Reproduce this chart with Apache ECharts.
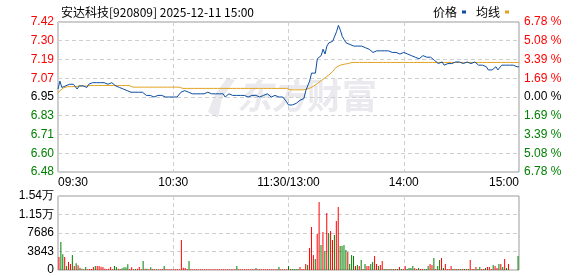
<!DOCTYPE html>
<html><head><meta charset="utf-8">
<script src="https://cdn.jsdelivr.net/npm/echarts@6/dist/echarts.min.js"></script>
<style>html,body{margin:0;padding:0;background:#fff}#c{width:578px;height:276px}</style>
</head><body><div id="c"></div>
<script>
const chartTitle = '安达科技[920809] 2025-12-11 15:00';
const legendNames = ['价格', '均线'];
const watermarkParts = ['东方', '财富'];
const priceAxisRange = [6.4788, 7.4212, 0.1178];
const volAxisRange = [0, 15372, 3843];
const priceTicks = ['6.48','6.60','6.71','6.83','6.95','7.07','7.19','7.30','7.42'];
const pctTicks = ['6.78 %','5.08 %','3.39 %','1.69 %','0.00 %','1.69 %','3.39 %','5.08 %','6.78 %'];
const volTicks = ['0','3843','7686','1.15万','1.54万'];
const timeTicks = ['09:30','10:30','11:30/13:00','14:00','15:00'];

const price = [
7.00,7.05,7.01,7.02,7.02,7.02,7.03,7.04,7.03,7.03,
7.00,7.02,7.03,7.02,7.02,7.01,7.03,7.03,7.04,7.05,
7.04,7.03,7.04,7.03,7.04,7.03,7.03,7.04,7.04,7.03,
7.02,7.02,7.01,7.01,7.00,7.00,6.99,6.99,6.98,6.98,
6.98,6.98,6.98,6.99,6.98,6.97,6.96,6.97,6.96,6.95,
6.95,6.95,6.96,6.95,6.96,6.95,6.95,6.95,6.95,6.95,
6.95,6.95,6.95,6.96,6.98,6.99,6.99,7.00,6.98,6.97,
6.97,6.97,6.97,6.97,6.97,6.97,6.97,6.98,6.98,6.98,
6.97,6.97,6.97,6.97,6.97,6.97,6.97,6.95,6.96,6.97,
6.96,6.96,6.96,6.96,6.95,6.96,6.96,6.96,6.95,6.95,
6.96,6.96,6.95,6.96,6.96,6.95,6.96,6.96,6.96,6.97,
6.96,6.95,6.96,6.96,6.95,6.95,6.95,6.95,6.94,6.92,
6.90,
6.90,6.90,6.90,6.91,6.92,6.93,6.93,6.94,6.99,7.00,
7.05,7.10,7.10,7.10,7.19,7.20,7.21,7.25,7.22,7.27,
7.29,7.29,7.30,7.31,7.36,7.40,7.37,7.33,7.31,7.29,
7.29,7.28,7.28,7.27,7.28,7.27,7.28,7.27,7.27,7.26,
7.25,7.25,7.24,7.23,7.24,7.24,7.25,7.24,7.24,7.24,
7.24,7.24,7.24,7.23,7.23,7.23,7.22,7.22,7.22,7.23,
7.22,7.22,7.21,7.21,7.20,7.20,7.20,7.19,7.20,7.21,
7.21,7.20,7.19,7.20,7.20,7.18,7.17,7.16,7.15,7.17,
7.15,7.16,7.16,7.16,7.16,7.16,7.17,7.16,7.17,7.17,
7.16,7.16,7.17,7.17,7.16,7.17,7.17,7.16,7.15,7.15,
7.15,7.14,7.14,7.12,7.12,7.12,7.13,7.14,7.12,7.13,
7.15,7.14,7.15,7.15,7.15,7.15,7.15,7.14,7.14,7.14
];

const avgPrice = [
6.975,6.990,7.000,7.008,7.012,7.015,7.015,7.015,7.015,7.015,
7.019,7.019,7.019,7.019,7.019,7.019,7.019,7.022,7.022,7.022,
7.022,7.022,7.022,7.022,7.022,7.022,7.022,7.022,7.022,7.022,
7.022,7.022,7.022,7.022,7.022,7.022,7.022,7.022,7.022,7.012,
7.012,7.012,7.012,7.012,7.012,7.012,7.012,7.012,7.012,7.012,
7.012,7.012,7.012,7.012,7.012,7.012,7.012,7.012,7.012,7.012,
7.012,7.012,7.012,7.012,7.012,7.004,7.004,7.004,7.004,7.004,
7.004,7.004,7.004,7.004,7.004,7.004,7.004,7.004,7.004,7.004,
7.004,7.004,7.004,7.004,7.004,7.004,7.004,7.004,7.004,7.004,
7.004,7.004,7.004,7.004,7.004,7.004,7.004,7.004,7.004,7.004,
7.004,7.004,7.004,7.004,7.004,7.004,7.004,7.004,7.004,7.004,
7.004,7.004,7.004,7.004,7.004,7.004,7.004,7.004,7.004,7.004,
7.004,
6.995,6.995,6.995,6.995,6.995,6.995,6.995,6.995,6.997,7.001,
7.005,7.010,7.018,7.027,7.034,7.044,7.053,7.062,7.070,7.079,
7.088,7.097,7.110,7.125,7.138,7.145,7.150,7.153,7.156,7.158,
7.160,7.163,7.167,7.167,7.167,7.167,7.167,7.167,7.167,7.167,
7.167,7.167,7.167,7.167,7.167,7.167,7.167,7.167,7.167,7.167,
7.167,7.167,7.167,7.167,7.167,7.167,7.167,7.167,7.167,7.167,
7.167,7.167,7.167,7.167,7.167,7.167,7.167,7.167,7.167,7.167,
7.167,7.167,7.167,7.167,7.167,7.167,7.167,7.167,7.167,7.167,
7.167,7.167,7.167,7.167,7.167,7.167,7.167,7.167,7.167,7.167,
7.167,7.167,7.167,7.167,7.167,7.167,7.167,7.167,7.167,7.167,
7.167,7.167,7.167,7.167,7.167,7.167,7.167,7.167,7.167,7.167,
7.167,7.167,7.167,7.167,7.167,7.167,7.167,7.167,7.167,7.167
];

const volume = [
2700,5816,3254,2700,830,1660,1250,3115,830,1385,
970,485,277,150,623,138,208,208,623,831,
831,831,700,623,277,208,277,623,138,831,
623,277,208,345,554,554,1177,208,554,138,
208,277,623,138,1870,277,277,138,554,208,
138,138,138,138,208,831,138,138,138,138,
138,138,138,138,6232,485,415,208,1870,138,
138,138,138,138,138,138,138,138,138,138,
138,138,138,138,138,138,138,138,138,138,
138,138,138,831,138,138,138,138,138,138,
138,138,138,415,138,138,138,138,138,138,
138,138,138,138,138,623,138,138,138,138,
831,
208,208,208,208,208,623,208,208,1246,1039,
4570,8932,3116,2285,7478,14125,5193,7893,3947,11840,
7686,8101,6232,7270,10178,13086,4985,4985,5193,4154,
3739,1246,3116,2908,831,1039,831,2077,208,1246,
831,831,1246,1662,2908,1246,831,1039,1870,208,
208,208,208,208,208,208,208,623,208,208,
831,208,415,415,831,345,208,415,208,208,
208,208,831,1246,1039,2493,208,831,2077,2493,
415,1246,208,208,831,208,208,208,208,208,
208,208,208,208,2077,208,208,623,208,623,
208,208,415,623,623,208,1039,831,415,1246,
1246,623,2285,415,1246,0,0,0,0,2908
];

const volDir = (
'rggrgrrgrg' + 'rgrggrrrrg' + 'rrrrrrrrrg' + 'grrggggrrr' + 'grrrgrgrgr' +
'rgrrrgrrrr' + 'rrrrrrrrgr' + 'rrrrrrrrrr' + 'rrrrrrrrrr' + 'rrrgrrrrrr' +
'rrrgrrrrrr' + 'rrrrrgrrrr' + 'g' +
'rggggrrrrg' + 'rrrgrrgrgr' + 'grrgrrgggg' + 'rgggrgrgrg' + 'rrggrrgrrg' +
'grgrgrgrgr' + 'rggggrrgrr' + 'gggrrgrggr' + 'grrrrgrgrg' + 'rgrgrrgrgg' +
'rrgrrrgrrg' + 'rgrgrrrrrg'
).split('');

const cats = [];
for (let h = 9, m = 30; ; m++) {
  if (m === 60) { m = 0; h++; }
  if (h === 11 && m > 30) break;
  cats.push(String(h).padStart(2, '0') + ':' + String(m).padStart(2, '0'));
}
for (let h = 13, m = 1; ; m++) {
  if (m === 60) { m = 0; h++; }
  cats.push(String(h).padStart(2, '0') + ':' + String(m).padStart(2, '0'));
  if (h === 15) break;
}

const LF = 'Liberation Sans, Arial, sans-serif';
const CJK = 'Noto Sans CJK SC, sans-serif';
const RED = '#ff0000', GREEN = '#008000';
const WM = '#e9e9ee';
const richStyles = {
  up: { color: RED, fontSize: 12, fontFamily: LF },
  dn: { color: GREEN, fontSize: 12, fontFamily: LF },
  eq: { color: '#000', fontSize: 12, fontFamily: LF }
};
function tickIndex(v) { return Math.round((v - priceAxisRange[0]) / priceAxisRange[2]); }
function cls(i) { return i > 4 ? 'up' : (i < 4 ? 'dn' : 'eq'); }
const dash = { color: '#cfcfcf', type: [4, 3], width: 1 };
const everyHour = (i) => i % 60 === 0;

const chart = echarts.init(document.getElementById('c'), null, { renderer: 'canvas' });
chart.setOption({
  animation: false,
  backgroundColor: '#fff',
  title: {
    text: chartTitle, left: 56, top: 1,
    textStyle: { fontSize: 12, fontWeight: 'normal', fontFamily: CJK, color: '#000' }
  },
  legend: {
    data: legendNames, right: 64, top: 1, icon: 'rect', itemWidth: 4, itemHeight: 3,
    align: 'right', itemGap: 10,
    textStyle: { fontSize: 12, fontFamily: CJK, color: '#000' }
  },
  graphic: [
    { type: 'polygon', z: -10, silent: true,
      shape: { points: [[227, 78], [235, 80], [222, 98], [218, 118], [208, 112], [214, 96]] },
      style: { fill: WM } },
    { type: 'text', left: 237, top: 78, z: -10, silent: true,
      style: { text: '{a|' + watermarkParts[0] + '}{b|' + watermarkParts[1] + '}',
        fill: WM, fontSize: 35, fontWeight: 'bold', fontFamily: CJK,
        rich: {
          a: { fontSize: 35, fontWeight: 'bold', fontStyle: 'italic', fontFamily: CJK, fill: WM },
          b: { fontSize: 35, fontWeight: 'bold', fontFamily: CJK, fill: WM }
        } } }
  ],
  grid: [
    { left: 58, top: 22, width: 461, height: 150, show: true, borderColor: '#999', borderWidth: 1, backgroundColor: 'transparent' },
    { left: 58, top: 196, width: 461, height: 74, show: true, borderColor: '#999', borderWidth: 1, backgroundColor: 'transparent' }
  ],
  xAxis: [
    { type: 'category', gridIndex: 0, data: cats, boundaryGap: false,
      axisLine: { show: false }, axisTick: { show: false },
      axisLabel: { interval: everyHour, margin: 5, fontSize: 12, fontFamily: LF, color: '#000',
        alignMinLabel: 'left', alignMaxLabel: 'right', showMinLabel: true, showMaxLabel: true,
        formatter: (v, i) => timeTicks[Math.round(i / 60)] },
      splitLine: { show: true, interval: everyHour, lineStyle: dash } },
    { type: 'category', gridIndex: 1, data: cats, boundaryGap: true,
      axisLine: { show: false }, axisTick: { show: false }, axisLabel: { show: false },
      splitLine: { show: false } },
    { type: 'category', gridIndex: 1, data: cats, boundaryGap: false,
      axisLine: { show: false }, axisTick: { show: false }, axisLabel: { show: false },
      splitLine: { show: true, interval: everyHour, lineStyle: dash } }
  ],
  yAxis: [
    { type: 'value', gridIndex: 0, min: priceAxisRange[0], max: priceAxisRange[1], interval: priceAxisRange[2],
      axisLine: { show: false }, axisTick: { show: false },
      splitLine: { show: true, lineStyle: dash },
      axisLabel: { margin: 4, formatter: (v) => { const i = tickIndex(v); return '{' + cls(i) + '|' + priceTicks[i] + '}'; }, rich: richStyles } },
    { type: 'value', gridIndex: 0, position: 'right', min: priceAxisRange[0], max: priceAxisRange[1], interval: priceAxisRange[2],
      axisLine: { show: false }, axisTick: { show: false }, splitLine: { show: false },
      axisLabel: { margin: 5, formatter: (v) => { const i = tickIndex(v); return '{' + cls(i) + '|' + pctTicks[i] + '}'; }, rich: richStyles } },
    { type: 'value', gridIndex: 1, min: volAxisRange[0], max: volAxisRange[1], interval: volAxisRange[2],
      axisLine: { show: false }, axisTick: { show: false },
      splitLine: { show: true, lineStyle: dash },
      axisLabel: { margin: 4, fontSize: 12, fontFamily: LF, color: '#000',
        formatter: (v) => volTicks[Math.round(v / volAxisRange[2])] } }
  ],
  series: [
    { name: legendNames[0], type: 'line', xAxisIndex: 0, yAxisIndex: 0, data: price,
      symbol: 'none', lineStyle: { width: 1, color: '#0c4da2' }, itemStyle: { color: '#0c4da2' }, z: 3 },
    { name: legendNames[1], type: 'line', xAxisIndex: 0, yAxisIndex: 0, data: avgPrice,
      symbol: 'none', lineStyle: { width: 1, color: '#e2a31f' }, itemStyle: { color: '#e2a31f' }, z: 2 },
    { type: 'bar', xAxisIndex: 1, yAxisIndex: 2, barWidth: 1,
      data: volume.map((v, i) => ({ value: v, itemStyle: { color: volDir[i] === 'r' ? RED : GREEN } })) }
  ]
});
</script></body></html>
